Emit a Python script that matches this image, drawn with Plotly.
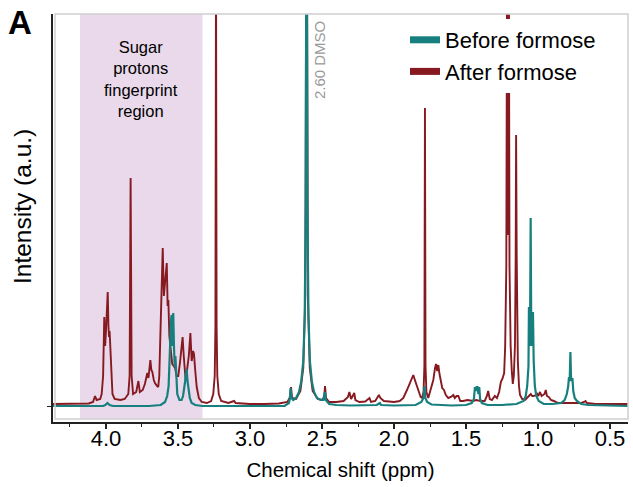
import plotly.graph_objects as go

# ---------------- data ----------------
# "After formose" spectrum: chemical shift (ppm) and intensity (a.u.)
after_ppm = [4.37, 4.20, 4.12, 4.09, 4.076, 4.065, 4.04, 4.030, 4.020, 4.012, 4.006, 4.000, 3.994,
             3.988, 3.983, 3.979, 3.975, 3.970, 3.963, 3.955, 3.94, 3.90, 3.87, 3.845, 3.836, 3.829,
             3.822, 3.812, 3.79, 3.775, 3.765, 3.745, 3.73, 3.713, 3.705, 3.692, 3.685, 3.678, 3.668,
             3.66, 3.645, 3.637, 3.63, 3.622, 3.615, 3.606, 3.598, 3.590, 3.578, 3.572, 3.567, 3.560,
             3.550, 3.540, 3.530, 3.520, 3.510, 3.498, 3.485, 3.479, 3.468, 3.460, 3.447, 3.438, 3.425,
             3.414, 3.405, 3.395, 3.389, 3.380, 3.370, 3.355, 3.335, 3.30, 3.27, 3.255, 3.245, 3.240,
             3.236, 3.232, 3.227, 3.217, 3.20, 3.15, 3.11, 3.10, 3.00, 2.90, 2.80, 2.74, 2.725, 2.715,
             2.708, 2.68, 2.65, 2.63, 2.616, 2.607, 2.598, 2.585, 2.565, 2.53, 2.50, 2.485, 2.479,
             2.472, 2.45, 2.40, 2.35, 2.32, 2.310, 2.298, 2.285, 2.276, 2.268, 2.24, 2.20, 2.17, 2.16,
             2.13, 2.105, 2.095, 2.07, 2.03, 2.00, 1.96, 1.935, 1.91, 1.889, 1.875, 1.866, 1.855, 1.845,
             1.830, 1.815, 1.805, 1.795, 1.789, 1.785, 1.781, 1.775, 1.762, 1.745, 1.727, 1.715, 1.708,
             1.700, 1.692, 1.684, 1.676, 1.665, 1.653, 1.640, 1.623, 1.605, 1.588, 1.578, 1.565, 1.553,
             1.540, 1.52, 1.49, 1.45, 1.43, 1.40, 1.37, 1.355, 1.346, 1.335, 1.32, 1.30, 1.285, 1.27,
             1.258, 1.245, 1.235, 1.228, 1.220, 1.213, 1.2085, 1.204, 1.198, 1.190, 1.182, 1.175, 1.168,
             1.160, 1.155, 1.152, 1.148, 1.140, 1.132, 1.125, 1.11, 1.09, 1.07, 1.05, 1.04, 1.030, 1.015,
             1.009, 0.998, 0.986, 0.975, 0.965, 0.955, 0.946, 0.938, 0.925, 0.91, 0.89, 0.86, 0.82,
             0.78, 0.73, 0.70, 0.68, 0.67, 0.66, 0.60, 0.50, 0.40, 0.375]
after_int = [2, 2, 2.5, 4, 10, 6, 7, 12, 30, 89, 60, 75, 95,
             114, 80, 69, 75, 59, 30, 12, 7, 6, 7, 12, 30, 228,
             30, 12, 14, 25, 14, 16, 22, 33, 28, 46, 36, 34, 26,
             23, 20, 19, 30, 66, 110, 158, 110, 125, 143, 100, 106, 70,
             56, 42, 40, 38, 30, 30, 45, 56, 69, 50, 26, 35, 50,
             73, 45, 55, 52, 35, 19, 8, 4, 3, 5, 12, 30, 80,
             450, 80, 30, 12, 5, 3, 5, 3, 2, 2, 2.5, 4, 8, 19,
             8, 7, 15, 38, 110, 600, 110, 38, 15, 7, 6, 9, 20,
             8, 4, 4, 5, 9, 14, 7, 10, 13, 6, 4, 4.5, 8, 4,
             5, 11, 8, 5, 4.5, 4, 5, 8, 16, 23, 27, 31, 26, 22,
             16, 9, 8, 14, 40, 298, 40, 14, 8, 17, 26, 38, 42,
             35, 41, 32, 26, 18, 16, 11, 8, 9, 11, 8, 10, 10,
             5, 5, 6, 5, 6, 5, 5, 10, 15, 7, 6, 10, 8, 14,
             24, 28, 33, 60, 140, 560, 171, 560, 140, 60, 35, 22, 30,
             60, 150, 271, 150, 45, 20, 11, 7, 6, 9, 12, 10, 10, 11,
             13, 10, 14, 10, 11, 12, 16, 10, 9, 6, 5, 3, 3,
             3, 3, 3, 4, 5, 3, 2, 2, 2, 2]

# "Before formose" spectrum
before_ppm = [4.37, 4.02, 4.005, 3.990, 3.975, 3.95, 3.70, 3.62, 3.59, 3.575, 3.565, 3.560, 3.555,
              3.549, 3.544, 3.540, 3.536, 3.533, 3.528, 3.523, 3.518, 3.512, 3.505, 3.49, 3.475, 3.465,
              3.460, 3.456, 3.450, 3.444, 3.440, 3.434, 3.429, 3.424, 3.418, 3.405, 3.38, 3.33, 2.76,
              2.73, 2.722, 2.718, 2.712, 2.70, 2.68, 2.66, 2.645, 2.63, 2.62, 2.613, 2.607, 2.601, 2.594,
              2.584, 2.57, 2.555, 2.535, 2.51, 2.49, 2.483, 2.479, 2.474, 2.45, 2.40, 2.30, 2.12, 2.105,
              2.098, 2.09, 2.0, 1.85, 1.81, 1.795, 1.788, 1.782, 1.77, 1.74, 1.60, 1.50, 1.46, 1.445,
              1.438, 1.432, 1.426, 1.420, 1.414, 1.408, 1.402, 1.39, 1.35, 1.25, 1.15, 1.10, 1.085,
              1.075, 1.066, 1.063, 1.058, 1.055, 1.051, 1.047, 1.043, 1.035, 1.030, 1.022, 1.012, 0.995,
              0.96, 0.90, 0.84, 0.815, 0.80, 0.790, 0.785, 0.780, 0.775, 0.770, 0.766, 0.761, 0.755,
              0.745, 0.73, 0.70, 0.65, 0.375]
before_int = [0, 0, 1, 3, 1, 0, 0, 1, 4, 10, 20, 34, 60,
              85, 91, 60, 85, 93, 60, 39, 50, 30, 12, 6, 6, 10,
              19, 19, 25, 37, 37, 25, 19, 19, 8, 3, 1, 0, 0,
              3, 8, 18, 8, 6, 8, 14, 24, 45, 90, 200, 600, 200, 90,
              45, 24, 14, 8, 6, 6, 12, 14, 6, 2, 1, 0.5, 1, 3,
              3, 1, 0.5, 1, 4, 8, 20, 8, 4, 1.5, 0.5, 1, 3, 7,
              19, 15, 19, 19, 12, 19, 7, 3, 1, 1, 2, 5, 10,
              20, 40, 99, 60, 80, 188, 80, 60, 94, 45, 20, 10, 5,
              2, 2, 3, 6, 12, 20, 29, 25, 54, 25, 27, 28, 15,
              8, 5, 2, 1, 0]

x_ticks = [4.0, 3.5, 3.0, 2.5, 2.0, 1.5, 1.0, 0.5]
x_tick_labels = ["4.0", "3.5", "3.0", "2.5", "2.0", "1.5", "1.0", "0.5"]
sugar_region = [4.18, 3.33]
series_names = ["Before formose", "After formose"]

# ---------------- styling ----------------
TEAL = "#17807f"
RED = "#861a20"
FONT = "Liberation Sans, Arial, sans-serif"

fig = go.Figure()

fig.add_trace(go.Scatter(x=after_ppm, y=after_int, mode="lines",
                         line=dict(color=RED, width=1.9), showlegend=False,
                         name=series_names[1]))
fig.add_trace(go.Scatter(x=before_ppm, y=before_int, mode="lines",
                         line=dict(color=TEAL, width=2.2), showlegend=False,
                         name=series_names[0]))
# legend entries (thick swatches)
fig.add_trace(go.Scatter(x=[None], y=[None], mode="lines", name=series_names[0],
                         line=dict(color=TEAL, width=7), legendrank=1))
fig.add_trace(go.Scatter(x=[None], y=[None], mode="lines", name=series_names[1],
                         line=dict(color=RED, width=7), legendrank=2))

W, H = 633, 487
L, R, T, B = 53, 5, 14, 65
pw, ph = W - L - R, H - T - B

fig.add_vrect(x0=sugar_region[0], x1=sugar_region[1], y0=3 / ph, y1=1,
              fillcolor="#e9d9ea", line_width=0, layer="below")
# light grey frame of the plotting box
fig.add_shape(type="rect", xref="paper", yref="paper", x0=2 / pw, x1=1, y0=3 / ph, y1=1,
              line=dict(color="#cfcfcf", width=1.5), layer="above")

fig.update_layout(
    width=W, height=H,
    margin=dict(l=L, r=R, t=T, b=B, pad=0, autoexpand=False),
    paper_bgcolor="white", plot_bgcolor="white",
    font=dict(family=FONT, color="black"),
    legend=dict(x=(405 - L) / pw, y=(H - B - 19) / ph, xanchor="left", yanchor="top",
                bgcolor="white", borderwidth=0, font=dict(size=22, family=FONT),
                itemwidth=30, tracegroupgap=0),
    xaxis=dict(range=[4.368, 0.375], tickvals=x_ticks, ticktext=x_tick_labels, automargin=False,
               showgrid=False, zeroline=False, showline=True, linecolor="#222", linewidth=2,
               ticks="outside", ticklen=5, tickwidth=1.5, tickcolor="#222",
               tickfont=dict(size=22, family=FONT), ticklabelstandoff=-9,
               minor=dict(dtick=0.25, tick0=0.25, ticks="outside", ticklen=3, tickwidth=1.2,
                          tickcolor="#222", showgrid=False),
               title=dict(text="Chemical shift (ppm)", font=dict(size=20.5, family=FONT), standoff=12)),
    yaxis=dict(range=[-16, 392], tickvals=[0], ticktext=[""], showgrid=False, zeroline=False,
               automargin=False,
               showline=True, linecolor="#222", linewidth=2, ticks="outside", ticklen=4,
               tickwidth=1.2, tickcolor="#222", fixedrange=True),
)

fig.add_annotation(text="Intensity (a.u.)", xref="paper", yref="paper",
                   x=(22 - L) / pw, y=(H - B - 207) / ph, textangle=-90, showarrow=False,
                   font=dict(size=24.5, family=FONT), xanchor="center", yanchor="middle")
fig.add_annotation(text="<b>A</b>", xref="paper", yref="paper",
                   x=(20 - L) / pw, y=(H - B - 22) / ph, showarrow=False,
                   font=dict(size=33, family=FONT), xanchor="center", yanchor="middle")
fig.add_annotation(text="Sugar<br>protons<br>fingerprint<br>region", x=3.755, y=327,
                   showarrow=False, font=dict(size=16.5, family=FONT),
                   xanchor="center", yanchor="middle", align="center")
fig.add_annotation(text="2.60 DMSO", x=2.52, y=346, textangle=-90, showarrow=False,
                   font=dict(size=15, family=FONT, color="#9a9a9a"),
                   xanchor="center", yanchor="middle")

# remove the browser's default page margin so the figure sits at the window's corner
fig.write_html("out.html", config={"displayModeBar": False},
               post_script="document.body.style.margin='0';")
